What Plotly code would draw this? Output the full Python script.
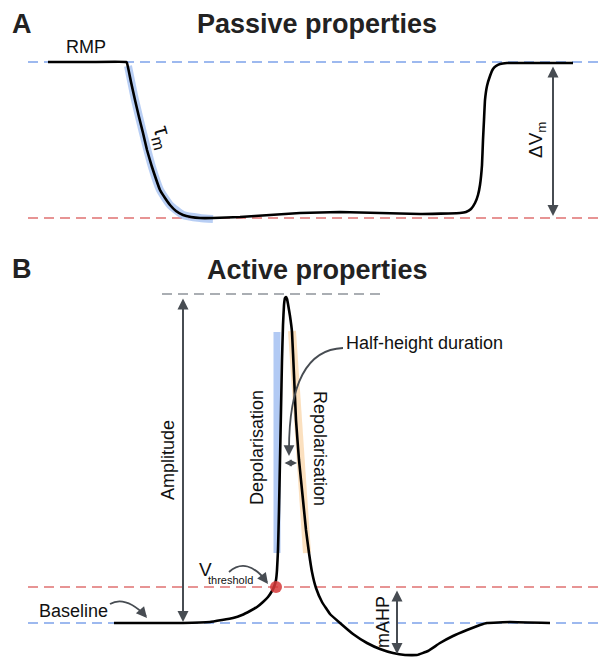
import plotly.graph_objects as go

# ---------------- data (schematic coordinates: time-like x, membrane-potential-like y, screen units) ----------------
# Panel A: passive response to hyperpolarising step
passive_t = [48, 90, 126, 127, 131, 135, 139, 143, 147, 152, 156, 160, 165, 170, 176, 183, 191, 200, 213, 240, 270, 300, 340, 380, 420, 460,
             466, 471, 475, 478, 480, 482, 483, 484, 485, 487, 490, 493, 496, 500, 507, 540, 573]
passive_v = [62, 62, 62, 63, 82, 100, 117, 133, 150, 167, 179, 190, 198, 205, 211, 215, 217, 218, 218, 217, 215, 213, 212, 213, 214, 213,
             212, 209, 203, 195, 185, 165, 140, 120, 100, 86, 76, 69, 66, 64, 63, 63, 63]
tau_fit_t = [128, 135, 143, 152, 160, 170, 183, 200, 213]
tau_fit_v = [66, 100, 133, 167, 190, 205, 215, 218, 219]

# Panel B: action potential
ap_t = [114, 150, 183, 210, 222, 233, 242, 250, 257, 263, 268, 272, 274, 276, 277, 278, 279, 280, 281, 282, 283, 284, 285, 286,
        287, 288, 290, 292, 294, 296, 299, 303, 306, 309, 312, 316, 322, 330, 340, 353, 367, 380, 393, 405,
        417, 428, 440, 453, 467, 480, 487, 510, 550]
ap_v = [623, 623, 623, 622, 620, 618, 615, 611, 607, 602, 597, 591, 587, 580, 570, 550, 510, 460, 410, 360, 325, 305, 298, 297,
        299, 304, 316, 332, 375, 420, 460, 500, 530, 553, 572, 588, 602, 614, 623, 634, 643, 649, 653, 655,
        655, 651, 643, 636, 630, 625, 623, 622, 623]
depol_fit_t = [277, 277]
depol_fit_v = [332, 553]
repol_fit_t = [292, 307]
repol_fit_v = [331, 553]
threshold_pt = (276, 587)

# reference levels
rmp_level = 62
step_level = 218
peak_level = 294
threshold_level = 587
baseline_level = 623

W, H = 601, 657
DARK = "#474c52"
FONT = "Arial, Liberation Sans, Helvetica, sans-serif"

fig = go.Figure()

# dashed reference lines
def hline(y, x0, x1, color):
    fig.add_shape(type="line", x0=x0, x1=x1, y0=y, y1=y, xref="x", yref="y",
                  line=dict(color=color, width=1.3, dash="10px,6px"), layer="below")

hline(rmp_level, 28, W, "#7ea2ea")
hline(step_level, 28, W, "#e07272")
hline(peak_level, 162, 383, "#8e949a")
hline(threshold_level, 28, W, "#e07272")
hline(baseline_level, 28, W, "#7ea2ea")

# highlight fits
fig.add_trace(go.Scatter(x=tau_fit_t, y=tau_fit_v, mode="lines", line=dict(color="rgba(160,190,240,0.75)", width=8, shape="spline", smoothing=0.4),
                         hoverinfo="skip", showlegend=False))
fig.add_trace(go.Scatter(x=depol_fit_t, y=depol_fit_v, mode="lines", line=dict(color="rgba(165,193,242,0.85)", width=7),
                         hoverinfo="skip", showlegend=False))
fig.add_trace(go.Scatter(x=repol_fit_t, y=repol_fit_v, mode="lines", line=dict(color="rgba(250,214,170,0.75)", width=8),
                         hoverinfo="skip", showlegend=False))

# voltage traces
fig.add_trace(go.Scatter(x=passive_t, y=passive_v, mode="lines",
                         line=dict(color="black", width=2.6, shape="spline", smoothing=0.3),
                         hoverinfo="skip", showlegend=False))
fig.add_trace(go.Scatter(x=ap_t, y=ap_v, mode="lines",
                         line=dict(color="black", width=2.6, shape="spline", smoothing=0.25),
                         hoverinfo="skip", showlegend=False))
fig.add_trace(go.Scatter(x=[threshold_pt[0]], y=[threshold_pt[1]], mode="markers",
                         marker=dict(color="rgba(214,58,58,0.85)", size=12), hoverinfo="skip", showlegend=False))

ann = []

def txt(x, y, s, size=18, angle=0, color="#111111"):
    ann.append(dict(x=x, y=y, xref="x", yref="y", text=s, showarrow=False, textangle=angle,
                    xanchor="center", yanchor="middle",
                    font=dict(family=FONT, size=size, color=color)))

def arrow(x0, y0, x1, y1, both=True, width=2, size=1.1, color=DARK):
    ann.append(dict(x=x1, y=y1, ax=x0, ay=y0, xref="x", yref="y", axref="x", ayref="y",
                    text="", showarrow=True, arrowhead=2, arrowsize=size, arrowwidth=width,
                    arrowcolor=color, arrowside="end+start" if both else "end",
                    standoff=0, startstandoff=0))

def curve(p0, c, p1, color=DARK, width=1.8):
    fig.add_shape(type="path", xref="x", yref="y",
                  path=f"M {p0[0]},{p0[1]} Q {c[0]},{c[1]} {p1[0]},{p1[1]}",
                  line=dict(color=color, width=width))

# titles
txt(22, 24, "<b>A</b>", size=27, color="#222222")
txt(317, 24, "<b>Passive properties</b>", size=27, color="#222222")
txt(22, 269, "<b>B</b>", size=27, color="#222222")
txt(317, 270, "<b>Active properties</b>", size=27, color="#222222")

# panel A labels
txt(86, 47, "RMP", size=18)
txt(163, 137, "τ<sub>m</sub>", size=23, angle=75)
txt(537, 140, "ΔV<sub>m</sub>", size=19, angle=-90)
arrow(553, 65, 553, 216)

# panel B labels
arrow(183, 297, 183, 622)
txt(168, 460, "Amplitude", size=18, angle=-90)
txt(257, 448, "Depolarisation", size=18, angle=-90)
txt(320, 448, "Repolarisation", size=18, angle=90)
txt(424, 343, "Half-height duration", size=18)
curve((343, 348), (289, 350), (289, 450))
arrow(289, 444, 289, 456, both=False, width=1.8, size=1.2)
arrow(283, 463, 297, 463, width=1.6, size=0.9)
txt(205, 569, "V", size=19)
txt(230, 580, "threshold", size=11)
curve((229, 572), (247, 556), (267, 582))
arrow(262, 576, 268, 584, both=False, width=1.8, size=1.2)
txt(73, 611, "Baseline", size=18)
curve((110, 604), (125, 595), (146, 616))
arrow(141, 611, 147, 618, both=False, width=1.8, size=1.2)
arrow(397, 589, 397, 654)
txt(383, 622, "mAHP", size=18, angle=-90)

fig.update_layout(
    width=W, height=H, margin=dict(l=0, r=0, t=0, b=0),
    paper_bgcolor="white", plot_bgcolor="white",
    xaxis=dict(range=[0, W], visible=False, fixedrange=True),
    yaxis=dict(range=[H, 0], visible=False, fixedrange=True),
    annotations=ann, showlegend=False,
)

fig.write_html("out.html")
